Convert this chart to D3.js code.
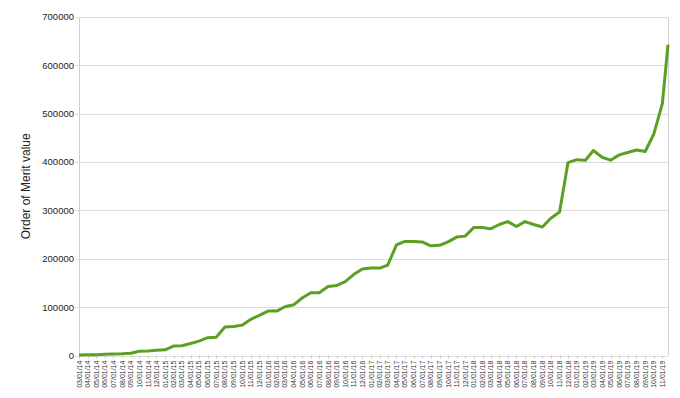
<!DOCTYPE html>
<html>
<head>
<script src="https://d3js.org/d3.v7.min.js"></script>
<style>
  body { margin: 0; background: #fff; }
  text { font-family: "Liberation Sans", Arial, sans-serif; }
</style>
</head>
<body>
<div id="viz"></div>
<script>
// monthly readings, first of each month from 03/01/14, plus one late-Nov 2019 point
var dates = d3.timeMonth.range(new Date(2014, 2, 1), new Date(2019, 11, 1));
dates.push(new Date(2019, 10, 21));

var values = [
  1000, 1500, 2000, 3000, 3500, 4000, 5000, 9000, 9500, 11000,
  12000, 20000, 20500, 25000, 30000, 37000, 38000, 59000, 60000, 63000,
  75000, 83000, 92000, 92000, 101000, 105000, 119000, 130000, 130000, 143000,
  145000, 153000, 168000, 179000, 181000, 181000, 187000, 229000, 236000, 236000,
  235000, 227000, 228000, 235000, 245000, 247000, 265000, 265000, 262000, 271000,
  277000, 267000, 277000, 271000, 266000, 284000, 297000, 399000, 405000, 404000,
  424000, 410000, 404000, 415000, 420000, 425000, 422000, 457000, 521000, 643000
];

var yTicks = [0, 100000, 200000, 300000, 400000, 500000, 600000, 700000];
var tickDates = d3.timeMonth.range(new Date(2014, 2, 1), new Date(2019, 10, 2));

var width = 680, height = 398;
var margin = {left: 79, right: 12, top: 17, bottom: 42};

var svg = d3.select("#viz").append("svg")
    .attr("width", width)
    .attr("height", height);

var x = d3.scaleTime()
    .domain([dates[0], dates[dates.length - 1]])
    .range([margin.left, width - margin.right]);

var y = d3.scaleLinear()
    .domain([0, 700000])
    .range([height - margin.bottom - 0.4, margin.top]);

// gridlines
svg.append("g")
    .selectAll("line")
    .data(yTicks)
    .join("line")
    .attr("x1", margin.left - 4)
    .attr("x2", width - margin.right)
    .attr("y1", d => Math.round(y(d)) + 0.5)
    .attr("y2", d => Math.round(y(d)) + 0.5)
    .style("stroke", "#dcdcdc")
    .style("stroke-width", 1);

// left and right frame
svg.append("g").selectAll("line")
    .data([margin.left, width - margin.right])
    .join("line")
    .attr("x1", d => Math.round(d) + 0.5)
    .attr("x2", d => Math.round(d) + 0.5)
    .attr("y1", y(700000))
    .attr("y2", y(0))
    .style("stroke", "#d0d0d0");

// y labels
svg.append("g")
    .selectAll("text")
    .data(yTicks)
    .join("text")
    .attr("x", margin.left - 5)
    .attr("y", d => y(d))
    .attr("dy", "0.35em")
    .attr("text-anchor", "end")
    .style("font-size", "9.5px")
    .style("fill", "#222")
    .text(d => d);

// x ticks
var xt = svg.append("g");
xt.selectAll("line")
    .data(tickDates)
    .join("line")
    .attr("x1", d => Math.round(x(d)) + 0.5)
    .attr("x2", d => Math.round(x(d)) + 0.5)
    .attr("y1", y(0))
    .attr("y2", y(0) + 3)
    .style("stroke", "#cccccc");

var fmt = d3.timeFormat("%m/%d/%y");
xt.selectAll("text")
    .data(tickDates)
    .join("text")
    .attr("transform", d => "translate(" + (x(d) + 2.5) + "," + (y(0) + 5) + ") rotate(-90)")
    .attr("text-anchor", "end")
    .style("font-size", "7px")
    .style("fill", "#333")
    .text(d => fmt(d));

// y title
svg.append("text")
    .attr("transform", "translate(30," + ((y(0) + y(700000)) / 2) + ") rotate(-90)")
    .attr("text-anchor", "middle")
    .style("font-size", "12px")
    .style("fill", "#222")
    .text("Order of Merit value");

// the line
var line = d3.line()
    .x((d, i) => x(dates[i]))
    .y(d => y(d));

svg.append("path")
    .datum(values)
    .attr("d", line)
    .style("fill", "none")
    .style("stroke", "#5b9f24")
    .style("stroke-width", 3)
    .style("stroke-linejoin", "round");
</script>
</body>
</html>
